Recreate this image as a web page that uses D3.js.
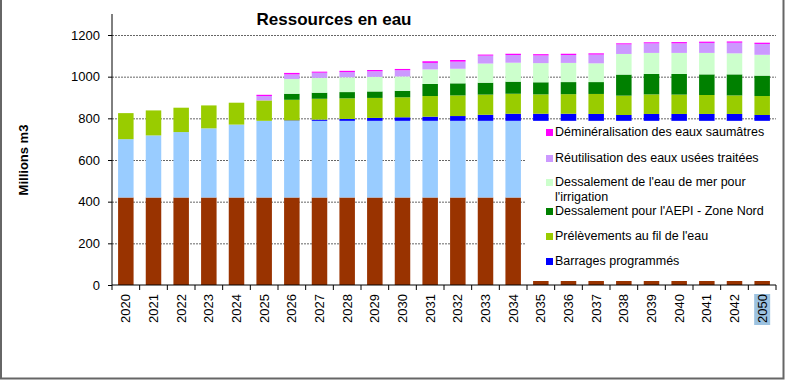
<!DOCTYPE html>
<html>
<head>
<meta charset="utf-8">
<script src="https://cdn.jsdelivr.net/npm/d3@7"></script>
<style>
  body { margin: 0; background: #fff; }
  svg { display: block; font-family: "Liberation Sans", Arial, sans-serif; }
</style>
</head>
<body>
<svg id="chart" width="785" height="380"></svg>
<script>
// years on the x axis
const years = ["2020","2021","2022","2023","2024","2025","2026","2027","2028","2029","2030","2031",
  "2032","2033","2034","2035","2036","2037","2038","2039","2040","2041","2042","2050"];

// stacked series, bottom to top (Millions m3)
const serieBrune = [420,420,420,420,420,420,420,420,420,420,420,420,420,420,420,420,420,420,420,420,420,420,420,420];
const serieBleuClair = [280,298,314,332,350,368,368,368,368,368,368,368,368,368,368,368,368,368,368,368,368,368,368,368];
const barrages = [0,0,0,0,0,0,2,6,9,14,17,20,23,29,34,34,34,33,28,33,33,33,33,28];
const filDeLEau = [125,120,117,110,105,98,99,100,99,96,96,99,99,97,96,93,94,96,93,94,93,91,89,91];
const dessalAEPI = [0,0,0,0,0,0,29,29,30,31,31,58,58,57,58,58,58,57,101,98,99,99,101,98];
const dessalIrrig = [0,0,0,0,0,0,71,71,71,70,69,70,70,92,91,92,92,90,99,101,101,103,101,100];
const reutilisation = [0,0,0,0,0,21,22,25,25,27,30,31,34,38,37,37,38,42,46,46,46,48,51,52];
const demineralisation = [0,0,0,0,0,6,7,5,6,6,6,8,8,5,6,6,6,6,5,5,6,6,6,6];

const yTicks = [0, 200, 400, 600, 800, 1000, 1200];

const series = [
  { key: "brune", values: serieBrune, color: "#993300" },
  { key: "bleuclair", values: serieBleuClair, color: "#99CCFF" },
  { key: "barrages", label: "Barrages programmés", values: barrages, color: "#0000FF" },
  { key: "fil", label: "Prélèvements au fil de l'eau", values: filDeLEau, color: "#99CC00" },
  { key: "aepi", label: "Dessalement pour l'AEPI - Zone Nord", values: dessalAEPI, color: "#008000" },
  { key: "irrig", label: ["Dessalement de l'eau de mer pour", "l'irrigation"], values: dessalIrrig, color: "#CCFFCC" },
  { key: "reut", label: "Réutilisation des eaux usées traitées", values: reutilisation, color: "#CC99FF" },
  { key: "demin", label: "Déminéralisation des eaux saumâtres", values: demineralisation, color: "#FF00FF" }
];

// build a table for d3.stack
const table = years.map((yr, i) => {
  const row = { year: yr };
  series.forEach(s => row[s.key] = s.values[i]);
  return row;
});

const svg = d3.select("#chart");

const plotLeft = 112, plotRight = 776, plotTop = 14, plotBottom = 285;

const x = d3.scaleBand()
  .domain(years)
  .range([plotLeft, plotRight])
  .paddingInner(0.44)
  .paddingOuter(0.22);

const y = d3.scaleLinear()
  .domain([0, 1200])
  .range([plotBottom, 35]);

// gridlines
svg.append("g")
  .attr("transform", `translate(${plotLeft},0)`)
  .call(d3.axisLeft(y).tickValues(yTicks.filter(d => d > 0)).tickSize(-(plotRight - plotLeft)).tickFormat(""))
  .call(g => g.select(".domain").remove())
  .selectAll("line")
    .attr("stroke", "#666")
    .attr("stroke-dasharray", "2,1");

// stacked bars
const stack = d3.stack().keys(series.map(s => s.key));
const layers = stack(table);

svg.append("g")
  .selectAll("g")
  .data(layers)
  .join("g")
    .attr("fill", (d, i) => series[i].color)
  .selectAll("rect")
  .data(d => d)
  .join("rect")
    .attr("x", d => x(d.data.year))
    .attr("y", d => y(d[1]))
    .attr("width", x.bandwidth())
    .attr("height", d => y(d[0]) - y(d[1]));

// y axis
const yAxis = svg.append("g")
  .attr("transform", `translate(${plotLeft},0)`)
  .call(d3.axisLeft(y).tickValues(yTicks).tickFormat(d3.format("d")).tickSize(4).tickPadding(8));
yAxis.select(".domain").remove();
yAxis.selectAll("line").attr("stroke", "#000");
yAxis.selectAll("text").attr("font-size", 13).attr("fill", "#000")
  .style("font-family", "'Liberation Sans', Arial, sans-serif");

svg.append("line")
  .attr("x1", plotLeft).attr("x2", plotLeft)
  .attr("y1", plotTop).attr("y2", plotBottom)
  .attr("stroke", "#000");

// x axis line and category boundary ticks
svg.append("line")
  .attr("x1", plotLeft).attr("x2", plotRight)
  .attr("y1", plotBottom).attr("y2", plotBottom)
  .attr("stroke", "#000");

svg.append("g")
  .selectAll("line")
  .data(d3.range(years.length + 1))
  .join("line")
    .attr("x1", i => x.range()[0] + i * x.step())
    .attr("x2", i => x.range()[0] + i * x.step())
    .attr("y1", plotBottom)
    .attr("y2", plotBottom + 5)
    .attr("stroke", "#000");

// selection highlight behind the last label
svg.append("rect")
  .attr("x", x("2050") + x.bandwidth() / 2 - 8)
  .attr("y", 294)
  .attr("width", 16)
  .attr("height", 31)
  .attr("fill", "#9cc2e0");

const xAxis = svg.append("g")
  .attr("transform", `translate(0,${plotBottom})`)
  .call(d3.axisBottom(x).tickSize(0));
xAxis.select(".domain").remove();
xAxis.selectAll("text")
  .attr("transform", "rotate(-90)")
  .attr("x", -9)
  .attr("y", 0)
  .attr("dy", "0.35em")
  .attr("font-size", 13)
  .attr("fill", "#000")
  .style("text-anchor", "end")
  .style("font-family", "'Liberation Sans', Arial, sans-serif");

// axis title
svg.append("text")
  .attr("transform", "translate(28,160) rotate(-90)")
  .attr("text-anchor", "middle")
  .attr("font-size", 13)
  .attr("font-weight", "bold")
  .text("Millions m3");

// chart title
svg.append("text")
  .attr("x", 334)
  .attr("y", 25)
  .attr("text-anchor", "middle")
  .attr("font-size", 17)
  .attr("font-weight", "bold")
  .text("Ressources en eau");

// legend box sits over the last bars
const legend = svg.append("g");
legend.append("rect")
  .attr("x", 526).attr("y", 121)
  .attr("width", 254).attr("height", 160)
  .attr("fill", "#fff");

const legendItems = series.filter(s => s.label).reverse();
const legendY = [132, 158, 182, 211, 236, 261];

legendItems.forEach((s, i) => {
  const g = legend.append("g").attr("transform", `translate(546,${legendY[i]})`);
  g.append("rect")
    .attr("x", 0).attr("y", -3)
    .attr("width", 7).attr("height", 7)
    .attr("fill", s.color);
  const lines = Array.isArray(s.label) ? s.label : [s.label];
  lines.forEach((t, j) => {
    g.append("text")
      .attr("x", 9)
      .attr("y", j * 15)
      .attr("dy", "0.35em")
      .attr("font-size", 12.5)
      .text(t);
  });
});

// outer frame
svg.append("path")
  .attr("d", "M1,0 V378.5 H783.5 V0")
  .attr("fill", "none")
  .attr("stroke", "#666")
  .attr("stroke-width", 2);
</script>
</body>
</html>
